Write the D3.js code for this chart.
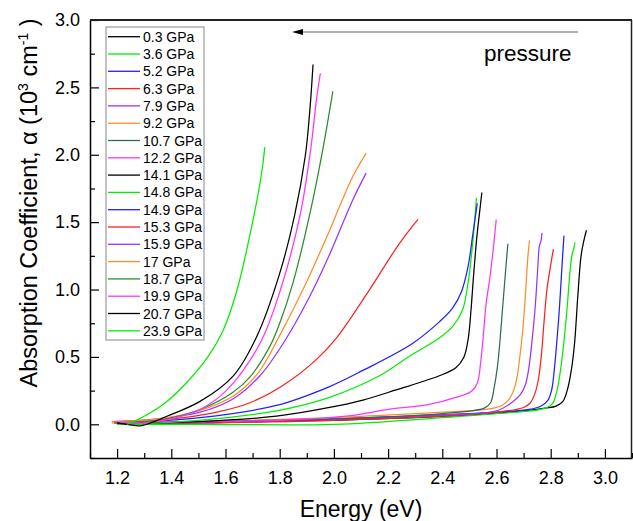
<!DOCTYPE html>
<html>
<head>
<meta charset="utf-8">
<script src="https://cdn.jsdelivr.net/npm/d3@7"></script>
<style>
  body { margin: 0; background: #fff; }
  svg { font-family: "Liberation Sans", Arial, sans-serif; }
</style>
</head>
<body>
<svg id="chart" width="633" height="521"></svg>
<script>
// pressure labels, legend order
const pressures = ["0.3 GPa", "3.6 GPa", "5.2 GPa", "6.3 GPa", "7.9 GPa", "9.2 GPa",
  "10.7 GPa", "12.2 GPa", "14.1 GPa", "14.8 GPa", "14.9 GPa", "15.3 GPa",
  "15.9 GPa", "17 GPa", "18.7 GPa", "19.9 GPa", "20.7 GPa", "23.9 GPa"];

const colors = ["#000000", "#00ee00", "#2020ff", "#ff2020", "#9933ff", "#ff8c2a",
  "#2e6b57", "#ff33ff", "#000000", "#00ee00", "#2020ff", "#ff2020",
  "#9933ff", "#ff8c2a", "#2e8b2e", "#ff33ff", "#000000", "#00ee00"];

// [energy (eV), alpha (10^3 cm^-1)]
const curves = [
  [[1.19,0.01],[1.4,0.01],[1.7,0.02],[2.0,0.03],[2.3,0.05],[2.5,0.07],[2.7,0.1],[2.78,0.12],[2.82,0.135],
   [2.845,0.17],[2.862,0.26],[2.876,0.4],[2.888,0.6],[2.9,0.95],[2.912,1.25],[2.922,1.36],[2.932,1.44]],
  [[1.2,0.0],[1.5,0.0],[2.0,0.0],[2.4,0.05],[2.6,0.08],[2.77,0.114],[2.805,0.15],[2.823,0.25],[2.836,0.4],
   [2.848,0.6],[2.86,0.85],[2.872,1.15],[2.879,1.26],[2.885,1.3],[2.889,1.35]],
  [[1.19,0.02],[1.5,0.01],[2.0,0.04],[2.4,0.07],[2.6,0.09],[2.72,0.11],[2.765,0.136],[2.79,0.18],[2.804,0.26],
   [2.813,0.4],[2.822,0.6],[2.83,0.8],[2.838,1.05],[2.844,1.25],[2.849,1.4]],
  [[1.19,0.02],[1.5,0.01],[2.0,0.03],[2.4,0.06],[2.6,0.09],[2.7,0.125],[2.725,0.16],[2.743,0.235],[2.755,0.34],
   [2.765,0.5],[2.775,0.75],[2.786,1.0],[2.795,1.12],[2.803,1.22],[2.81,1.3]],
  [[1.19,0.02],[1.5,0.02],[2.0,0.04],[2.4,0.07],[2.6,0.1],[2.655,0.16],[2.688,0.22],[2.706,0.29],[2.718,0.4],
   [2.73,0.6],[2.742,0.85],[2.752,1.15],[2.758,1.32],[2.764,1.36],[2.768,1.42]],
  [[1.18,0.01],[1.5,0.02],[2.0,0.05],[2.4,0.09],[2.56,0.11],[2.62,0.14],[2.646,0.185],[2.663,0.25],[2.676,0.35],
   [2.686,0.5],[2.697,0.7],[2.708,1.0],[2.716,1.25],[2.722,1.365]],
  [[1.2,0.01],[1.5,0.02],[2.0,0.04],[2.4,0.08],[2.555,0.12],[2.578,0.16],[2.592,0.28],[2.603,0.42],[2.612,0.6],
   [2.622,0.85],[2.632,1.1],[2.642,1.34]],
  [[1.19,0.02],[1.5,0.02],[1.8,0.03],[2.045,0.06],[2.2,0.11],[2.352,0.148],[2.45,0.2],[2.508,0.245],[2.53,0.31],
   [2.541,0.45],[2.551,0.65],[2.562,0.9],[2.575,1.08],[2.588,1.3],[2.599,1.52]],
  [[1.2,0.01],[1.5,0.02],[1.788,0.06],[1.984,0.125],[2.107,0.18],[2.229,0.255],[2.389,0.36],[2.45,0.42],
   [2.48,0.5],[2.496,0.64],[2.506,0.85],[2.516,1.12],[2.528,1.4],[2.538,1.58],[2.546,1.72]],
  [[1.2,0.0],[1.5,0.03],[1.788,0.1],[1.984,0.2],[2.168,0.36],[2.29,0.52],[2.389,0.64],[2.44,0.73],
   [2.475,0.85],[2.495,1.05],[2.51,1.3],[2.526,1.68]],
  [[1.2,0.01],[1.506,0.05],[1.788,0.14],[1.984,0.28],[2.107,0.4],[2.29,0.6],[2.389,0.76],[2.437,0.86],
   [2.47,0.98],[2.495,1.17],[2.512,1.4],[2.529,1.64]],
  [[1.2,0.01],[1.445,0.05],[1.568,0.09],[1.69,0.16],[1.813,0.29],[1.935,0.48],[2.009,0.64],[2.119,0.96],
   [2.239,1.333],[2.31,1.52]],
  [[1.19,0.02],[1.35,0.04],[1.506,0.09],[1.629,0.19],[1.727,0.36],[1.819,0.62],[1.911,0.95],[1.984,1.26],
   [2.07,1.667],[2.119,1.864]],
  [[1.18,0.02],[1.35,0.04],[1.5,0.1],[1.629,0.21],[1.72,0.38],[1.8,0.66],[1.9,1.06],[1.978,1.41],[2.03,1.66],
   [2.07,1.84],[2.119,2.012]],
  [[1.19,0.01],[1.35,0.03],[1.506,0.11],[1.629,0.24],[1.69,0.35],[1.764,0.58],[1.8,0.75],[1.849,1.05],
   [1.91,1.55],[1.96,2.05],[1.996,2.47]],
  [[1.19,0.02],[1.3,0.01],[1.4,0.04],[1.506,0.11],[1.603,0.25],[1.727,0.6],[1.8,0.98],[1.875,1.55],
   [1.915,2.05],[1.935,2.4],[1.95,2.605]],
  [[1.2,0.01],[1.25,-0.005],[1.29,-0.01],[1.384,0.06],[1.506,0.17],[1.629,0.36],[1.715,0.65],[1.8,1.12],
   [1.855,1.55],[1.895,2.0],[1.912,2.35],[1.923,2.67]],
  [[1.237,0.0],[1.3,0.06],[1.384,0.17],[1.457,0.31],[1.535,0.5],[1.592,0.7],[1.643,1.0],[1.7,1.5],
   [1.733,1.86],[1.745,2.057]]
];

const xTicks = [1.2, 1.4, 1.6, 1.8, 2.0, 2.2, 2.4, 2.6, 2.8, 3.0];
const yTicks = [0.0, 0.5, 1.0, 1.5, 2.0, 2.5, 3.0];

const svg = d3.select("#chart");
const margin = {top: 20, right: 1, bottom: 63, left: 90};
const width = 633, height = 521;

const x = d3.scaleLinear().domain([1.1, 3.1]).range([margin.left, width - margin.right]);
const y = d3.scaleLinear().domain([-0.25, 3.0]).range([height - margin.bottom, margin.top]);

// curves
const line = d3.line()
  .x(d => x(d[0]))
  .y(d => y(d[1]))
  .curve(d3.curveCatmullRom.alpha(0.5));

svg.append("g")
  .selectAll("path")
  .data(curves)
  .join("path")
  .attr("d", line)
  .attr("fill", "none")
  .attr("stroke", (d, i) => colors[i])
  .attr("stroke-width", 1.25);

// x axis (ticks inward)
const xMinor = d3.range(1.1, 3.1001, 0.1).filter(v => !xTicks.some(t => Math.abs(t - v) < 1e-6));
const xAxis = svg.append("g")
  .attr("transform", `translate(0,${height - margin.bottom})`)
  .call(d3.axisBottom(x).tickValues(xTicks).tickFormat(d3.format(".1f"))
    .tickSizeInner(-9).tickSizeOuter(0).tickPadding(13));
xAxis.selectAll("text").attr("font-size", 18).attr("fill", "#000");
svg.append("g")
  .attr("transform", `translate(0,${height - margin.bottom})`)
  .call(d3.axisBottom(x).tickValues(xMinor).tickFormat("").tickSizeInner(-5).tickSizeOuter(0))
  .select(".domain").remove();

// y axis
const yMinor = [-0.25, 0.25, 0.75, 1.25, 1.75, 2.25, 2.75];
const yAxis = svg.append("g")
  .attr("transform", `translate(${margin.left},0)`)
  .call(d3.axisLeft(y).tickValues(yTicks).tickFormat(d3.format(".1f"))
    .tickSizeInner(-9).tickSizeOuter(0).tickPadding(10));
yAxis.selectAll("text").attr("font-size", 18).attr("fill", "#000");
svg.append("g")
  .attr("transform", `translate(${margin.left},0)`)
  .call(d3.axisLeft(y).tickValues(yMinor).tickFormat("").tickSizeInner(-5).tickSizeOuter(0))
  .select(".domain").remove();

svg.selectAll(".domain").attr("stroke", "#000").attr("stroke-width", 1.5);
svg.selectAll(".tick line").attr("stroke", "#000").attr("stroke-width", 1.2);

// frame top / right
svg.append("line")
  .attr("x1", x(1.1)).attr("x2", x(3.1))
  .attr("y1", y(3.0)).attr("y2", y(3.0))
  .attr("stroke", "#222").attr("stroke-width", 2);
svg.append("line")
  .attr("x1", x(3.1) - 0.5).attr("x2", x(3.1) - 0.5)
  .attr("y1", y(3.0)).attr("y2", y(-0.25))
  .attr("stroke", "#222").attr("stroke-width", 1.5);

// axis titles
svg.append("text")
  .attr("x", (x(1.1) + x(3.1)) / 2)
  .attr("y", 517)
  .attr("text-anchor", "middle")
  .attr("font-size", 23)
  .text("Energy (eV)");

const yt = svg.append("text")
  .attr("transform", "translate(37,203) rotate(-90)")
  .attr("text-anchor", "middle")
  .attr("font-size", 23.5);
yt.append("tspan").text("Absorption Coefficient, α (10");
yt.append("tspan").attr("font-size", 14).attr("dy", -9).text("3");
yt.append("tspan").attr("dy", 9).text(" cm");
yt.append("tspan").attr("font-size", 14).attr("dy", -9).text("-1");
yt.append("tspan").attr("dy", 9).text(" )");

// legend
const legX = 106, legY = 27, rowH = 17.3;
svg.append("rect")
  .attr("x", legX).attr("y", legY)
  .attr("width", 98).attr("height", 313)
  .attr("fill", "#fff")
  .attr("stroke", "#999").attr("stroke-width", 1.2);
const leg = svg.append("g")
  .selectAll("g")
  .data(pressures)
  .join("g")
  .attr("transform", (d, i) => `translate(${legX},${legY + 9.7 + i * rowH})`);
leg.append("line")
  .attr("x1", 2).attr("x2", 34)
  .attr("stroke", (d, i) => colors[i])
  .attr("stroke-width", 1.3);
leg.append("text")
  .attr("x", 37).attr("y", 5)
  .attr("font-size", 14)
  .text(d => d);

// pressure arrow
svg.append("line")
  .attr("x1", 578).attr("x2", 298)
  .attr("y1", 32).attr("y2", 32)
  .attr("stroke", "#999").attr("stroke-width", 1.3);
svg.append("path")
  .attr("d", "M292,32 L303,29 L303,35 Z")
  .attr("fill", "#000");
svg.append("text")
  .attr("x", 484).attr("y", 61)
  .attr("font-size", 22.5)
  .text("pressure");
</script>
</body>
</html>
